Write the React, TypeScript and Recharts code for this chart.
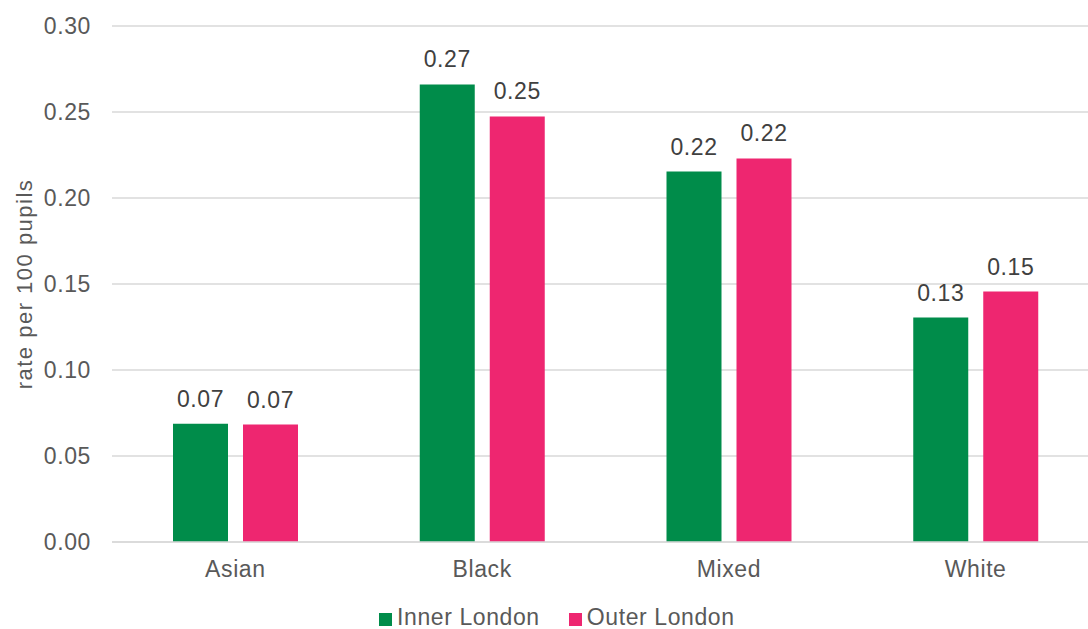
import React from "react";
import { BarChart, Bar, XAxis, YAxis, CartesianGrid, Legend, LabelList } from "recharts";

const categories = ["Asian", "Black", "Mixed", "White"];
const innerLondon = [0.0687, 0.266, 0.2154, 0.1305];
const outerLondon = [0.0683, 0.2474, 0.223, 0.1456];
const yTicks = [0, 0.05, 0.1, 0.15, 0.2, 0.25, 0.3];
const seriesNames = ["Inner London", "Outer London"];
const seriesColors = ["#008C4A", "#EE2670"];
const yLabel = "rate per 100 pupils";

const data = categories.map((c, i) => ({ name: c, inner: innerLondon[i], outer: outerLondon[i] }));

const FONT = '"Liberation Sans", Arial, sans-serif';
const TEXT = "#595959";
const FS = 23;
const LS = 0.6;

const fmt = (v: any) => Number(v).toFixed(2);

const LegendContent = () => (
  <div style={{ display: "flex", alignItems: "center", fontFamily: FONT, fontSize: FS, color: TEXT, lineHeight: "23px", whiteSpace: "nowrap", letterSpacing: LS }}>
    {seriesNames.map((n, i) => (
      <div key={n} style={{ display: "flex", alignItems: "center", marginRight: i === 0 ? 29 : 0 }}>
        <span style={{ display: "inline-block", width: 13, height: 13, background: seriesColors[i], marginRight: 5, marginTop: 3 }} />
        <span>{n}</span>
      </div>
    ))}
  </div>
);

const YLabel = (props: any) => {
  const vb = props.viewBox || { x: 0, y: 0, width: 0, height: 0 };
  const x = vb.x + 24;
  const y = vb.y + vb.height / 2;
  return (
    <text x={x} y={y} transform={`rotate(-90 ${x} ${y})`} textAnchor="middle" dominantBaseline="central" fill={TEXT} fontSize={22} fontFamily={FONT} letterSpacing={1.5}>
      {yLabel}
    </text>
  );
};

export default function App() {
  return (
    <div style={{ position: "absolute", left: 0, top: 0, width: 1088, height: 629, overflow: "hidden", background: "#fff" }}>
      <BarChart
        width={1100}
        height={629}
        data={data}
        margin={{ top: 26, right: 1, left: 0, bottom: 47 }}
        barSize={55}
        barGap={15}
        style={{ fontFamily: FONT }}
      >
        <CartesianGrid vertical={false} stroke="#D9D9D9" strokeWidth={1.5} />
        <XAxis
          dataKey="name"
          height={40}
          tickLine={false}
          tickSize={0}
          tickMargin={19}
          axisLine={{ stroke: "#D9D9D9", strokeWidth: 1.5 }}
          tick={{ fill: TEXT, fontSize: FS, fontFamily: FONT, letterSpacing: LS }}
        />
        <YAxis
          width={112}
          domain={[0, 0.3]}
          ticks={yTicks}
          tickFormatter={fmt}
          axisLine={false}
          tickLine={false}
          tickSize={0}
          tickMargin={21}
          tick={{ fill: TEXT, fontSize: FS, fontFamily: FONT, letterSpacing: LS }}
          label={{ content: <YLabel /> } as any}
        />
        <Legend
          content={<LegendContent />}
          wrapperStyle={{ position: "absolute", left: 379, top: 606, width: "auto", height: 0 }}
        />
        <Bar dataKey="inner" name={seriesNames[0]} fill={seriesColors[0]} isAnimationActive={false}>
          <LabelList dataKey="inner" position="top" offset={17} formatter={fmt} fill="#404040" fontSize={FS} fontFamily={FONT} letterSpacing={LS} />
        </Bar>
        <Bar dataKey="outer" name={seriesNames[1]} fill={seriesColors[1]} isAnimationActive={false}>
          <LabelList dataKey="outer" position="top" offset={17} formatter={fmt} fill="#404040" fontSize={FS} fontFamily={FONT} letterSpacing={LS} />
        </Bar>
      </BarChart>
    </div>
  );
}
